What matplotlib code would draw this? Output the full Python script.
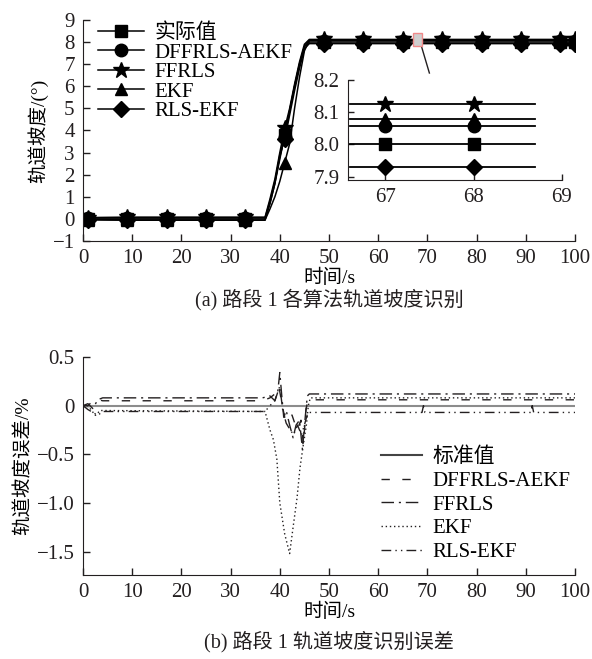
import matplotlib
matplotlib.use("Agg")
import matplotlib.pyplot as plt
from matplotlib.patches import Rectangle

plt.rcParams['font.family'] = ['Liberation Serif', 'Noto Sans CJK SC']
plt.rcParams['font.size'] = 15
plt.rcParams['axes.unicode_minus'] = True

# ---------------- 数据 (a) 轨道坡度识别 ----------------
names = ['实际值', 'DFFRLS-AEKF', 'FFRLS', 'EKF', 'RLS-EKF']
marks = ['s', 'o', '*', '^', 'D']
msizes = [8, 9, 12, 9, 8]

t_top = [0, 1, 9, 17, 25, 33, 37, 38, 39, 40, 41, 42, 43, 44, 45, 46,
         49, 57, 65, 73, 81, 89, 97, 100]
g_real = [0, 0, 0, 0, 0, 0, 0, 0.7, 1.6, 2.7, 3.8, 4.9, 6.0, 7.0, 7.8, 8.0,
          8, 8, 8, 8, 8, 8, 8, 8]
g_dff = [0, 0.05, 0.05, 0.05, 0.05, 0.05, 0.05, 0.8, 1.7, 2.8, 3.7, 4.9, 6.0, 7.0, 7.8, 8.06,
         8.06, 8.06, 8.06, 8.06, 8.06, 8.06, 8.06, 8.06]
g_ffr = [0, 0.06, 0.08, 0.08, 0.08, 0.08, 0.08, 0.9, 1.8, 3.0, 4.1, 5.0, 6.1, 7.1, 7.9, 8.12,
         8.12, 8.12, 8.12, 8.12, 8.12, 8.12, 8.12, 8.12]
g_ekf = [0, -0.03, -0.05, -0.05, -0.05, -0.05, -0.05, 0.45, 1.0, 1.7, 2.55, 3.4, 5.0, 6.4, 7.6, 8.08,
         8.08, 8.08, 8.08, 8.08, 8.08, 8.08, 8.08, 8.08]
g_rls = [0, -0.04, -0.06, -0.06, -0.06, -0.06, -0.06, 0.7, 1.6, 2.9, 3.6, 4.7, 5.8, 6.8, 7.7, 7.93,
         7.93, 7.93, 7.93, 7.93, 7.93, 7.93, 7.93, 7.93]
grade = [g_real, g_dff, g_ffr, g_ekf, g_rls]
mark_t = [1, 9, 17, 25, 33, 41, 49, 57, 65, 73, 81, 89, 97, 100]

# 局部放大
t_in = [66.6, 67, 68, 68.7]
lv_in = [8.0, 8.057, 8.125, 8.08, 7.929]

# ---------------- 数据 (b) 识别误差 ----------------
t_std = [0, 100]
e_std = [0, 0]
t_dff = [0, 1, 2.5, 4, 36.5, 38, 39, 39.8, 40.5, 41, 41.8, 42.5, 43.5, 44.3, 44.8, 45.3, 45.7, 46, 100]
e_dff = [0, 0, 0.07, 0.05, 0.05, 0.08, 0.12, 0.2, 0.0, -0.12, -0.05, -0.1, -0.25, -0.15, -0.4, -0.05, 0.06, 0.06, 0.06]
t_ffr = [0, 1, 2, 3, 4, 36.5, 38, 39, 39.6, 40, 40.4, 40.8, 41.3, 42, 42.7, 43.3, 44, 44.6, 45.2, 45.6, 46, 100]
e_ffr = [0, 0.02, -0.03, 0.06, 0.08, 0.08, 0.1, 0.05, 0.15, 0.34, 0.1, -0.12, -0.05, -0.2, -0.33, -0.2, -0.15, -0.45, -0.1, 0.1, 0.12, 0.12]
t_ekf = [0, 1, 2.5, 3.5, 37, 38, 38.7, 39.4, 40, 41, 42, 42.7, 43.5, 44.1, 44.7, 45.4, 45.8, 46.2, 100]
e_ekf = [0, 0, -0.1, -0.05, -0.06, -0.25, -0.35, -0.55, -1.0, -1.32, -1.52, -1.25, -0.95, -0.64, -0.43, -0.2, 0.0, 0.08, 0.08]
t_rls = [0, 1, 3, 4, 37, 38, 39, 40, 40.6, 41.3, 42, 42.8, 43.6, 44.4, 45, 45.7,
         68.9, 69.2, 69.5, 91.0, 91.3, 91.6, 100]
e_rls = [0, -0.04, -0.1, -0.06, -0.06, 0.0, 0.05, 0.2, -0.05, -0.18, -0.24, -0.3, -0.2, -0.3, -0.2, -0.07,
         -0.07, 0.0, -0.07, -0.07, 0.0, -0.07, -0.07]

err_names = ['标准值', 'DFFRLS-AEKF', 'FFRLS', 'EKF', 'RLS-EKF']

ink = '#231f20'
fig = plt.figure(figsize=(5.92, 6.59), dpi=100)

def style_axes(ax):
    ax.spines['top'].set_visible(False)
    ax.spines['right'].set_visible(False)
    ax.tick_params(direction='in', length=5, width=1, colors=ink, pad=6)
    for s in ax.spines.values():
        s.set_color(ink)

# ---- (a) ----
ax1 = fig.add_axes([0.1402, 0.6343, 0.8311, 0.3354])
for g, n, m, ms in zip(grade, names, marks, msizes):
    idx = [t_top.index(v) for v in mark_t]
    ax1.plot(t_top, g, color='black', lw=1.1, marker=m, ms=ms, markevery=idx, label=n)
ax1.set_xlim(0, 100)
ax1.set_ylim(-1, 9)
ax1.set_xticks(range(0, 101, 10))
ax1.set_yticks(range(-1, 10))
style_axes(ax1)
ax1.set_xlabel('时间/s', labelpad=0, fontsize=14)
ax1.set_ylabel('轨道坡度/(°)', labelpad=3, fontsize=14)
ax1.legend(loc='upper left', bbox_to_anchor=(0.03, 0.985), frameon=False,
           handlelength=2.2, handletextpad=0.5, labelspacing=0.0, borderaxespad=0, borderpad=0)
ax1.add_patch(Rectangle((67, 7.8), 2, 0.6, facecolor='#cfcfcf', edgecolor='#f08a8a', lw=1, zorder=5))
ax1.plot([68.8, 70.4], [7.8, 6.6], color=ink, lw=1)

axi = fig.add_axes([0.5878, 0.7269, 0.3615, 0.1517])
for v, m, ms in zip(lv_in, marks, msizes):
    axi.plot(t_in, [v] * len(t_in), color='black', lw=1.3, marker=m, ms=ms, markevery=[1, 2])
axi.set_xlim(66.58, 69.0)
axi.set_ylim(7.89, 8.2)
axi.set_xticks([67, 68, 69])
axi.set_yticks([7.9, 8.0, 8.1, 8.2])
axi.set_yticklabels(['7.9', '8.0', '8.1', '8.2'])
style_axes(axi)
axi.tick_params(length=4)
axi.patch.set_alpha(0)

fig.text(0.556, 0.546, '(a) 路段 1 各算法轨道坡度识别', ha='center', va='center', color=ink, fontsize=14.5)

# ---- (b) ----
ax2 = fig.add_axes([0.1402, 0.1275, 0.8311, 0.3308])
ax2.plot(t_std, e_std, color='#8c8c8c', lw=1.5, label=err_names[0])
ax2.plot(t_dff, e_dff, color=ink, lw=1, dashes=(6, 9), label=err_names[1])
ax2.plot(t_ffr, e_ffr, color=ink, lw=1, dashes=(9, 3.5, 1.5, 3.5), label=err_names[2])
ax2.plot(t_ekf, e_ekf, color=ink, lw=1, dashes=(1, 2), label=err_names[3])
ax2.plot(t_rls, e_rls, color=ink, lw=1, dashes=(7, 3, 1, 3, 1, 3), label=err_names[4])
ax2.set_xlim(0, 100)
ax2.set_ylim(-1.74, 0.5)
ax2.set_xticks(range(0, 101, 10))
ax2.set_yticks([0.5, 0, -0.5, -1.0, -1.5])
ax2.set_yticklabels(['0.5', '0', '\u22120.5', '\u22121.0', '\u22121.5'])
style_axes(ax2)
ax2.set_xlabel('时间/s', labelpad=0, fontsize=14)
ax2.set_ylabel('轨道坡度误差/%', labelpad=3, fontsize=14)
leg2 = ax2.legend(loc='upper left', bbox_to_anchor=(0.605, 0.585), frameon=False,
                  handlelength=2.0, handletextpad=0.5, labelspacing=0.2, borderaxespad=0, borderpad=0)
leg2.get_lines()[0].set_color('#444444')

fig.text(0.556, 0.027, '(b) 路段 1 轨道坡度识别误差', ha='center', va='center', color=ink, fontsize=14.5)

fig.savefig('out.png', dpi=100)
